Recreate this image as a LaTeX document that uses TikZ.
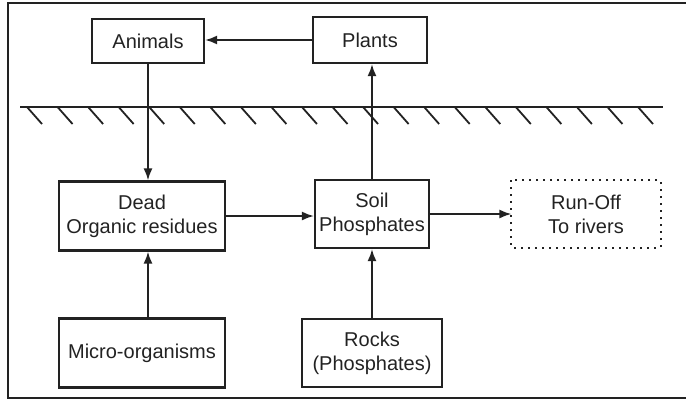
\documentclass[tikz,border=0pt]{standalone}
\usepackage{xcolor}
\usepackage{fontspec}
\setmainfont{Liberation Sans}
\usetikzlibrary{arrows.meta}
\definecolor{inkGray}{HTML}{222222}
\tikzset{
  box/.style={draw=inkGray, line width=2.2pt, inner sep=0pt, align=center, text=inkGray, font=\fontsize{20}{24}\selectfont},
  flow/.style={-{Latex[length=12pt,width=9pt]}, line width=1.8pt, inkGray},
  ground/.style={line width=2.2pt, inkGray},
  frame/.style={line width=2.2pt, inkGray},
}

\begin{document}
\begin{tikzpicture}[x=1pt, y=-1pt]
  \useasboundingbox (0,0) rectangle (686,402);
  \draw[frame] (686,3) -- (8,3) -- (8,398) -- (686,398);
  \node[box, minimum width=112pt, minimum height=44pt] (animals) at (148,41) {Animals};
  \node[box, minimum width=114pt, minimum height=46pt] (plants) at (370,40) {Plants};
  \node[box, minimum width=166pt, minimum height=69pt] (dead) at (142,216) {Dead\\Organic residues};
  \node[box, minimum width=114pt, minimum height=68pt] (soil) at (372,214) {Soil\\Phosphates};
  \node[box, draw=none, minimum width=147pt, minimum height=65pt] (runoff) at (586,214) {Run-Off\\To rivers};
  \draw[inkGray, line width=2pt, dash pattern=on 2pt off 5pt] (runoff.north west) rectangle (runoff.south east);
  \node[box, minimum width=166pt, minimum height=69pt] (micro) at (142,353) {Micro-organisms};
  \node[box, minimum width=140pt, minimum height=68pt] (rocks) at (372,353) {Rocks\\(Phosphates)};
  \draw[ground] (20,107) -- (663,107);
  \foreach \i in {0,...,20}
    \draw[ground, line width=1.8pt] (27+30.55*\i,107) -- ++(15,17);
  \draw[flow] (plants.west) -- (plants.west -| animals.east);
  \draw[flow] (animals.south) -- (animals.south |- dead.north);
  \draw[flow] (micro.north -| animals.south) -- (dead.south -| animals.south);
  \draw[flow] (dead.east) -- (dead.east -| soil.west);
  \draw[flow] (soil.north) -- (soil.north |- plants.south);
  \draw[flow] (soil.east) -- (soil.east -| runoff.west);
  \draw[flow] (rocks.north) -- (soil.south);
\end{tikzpicture}
\end{document}
